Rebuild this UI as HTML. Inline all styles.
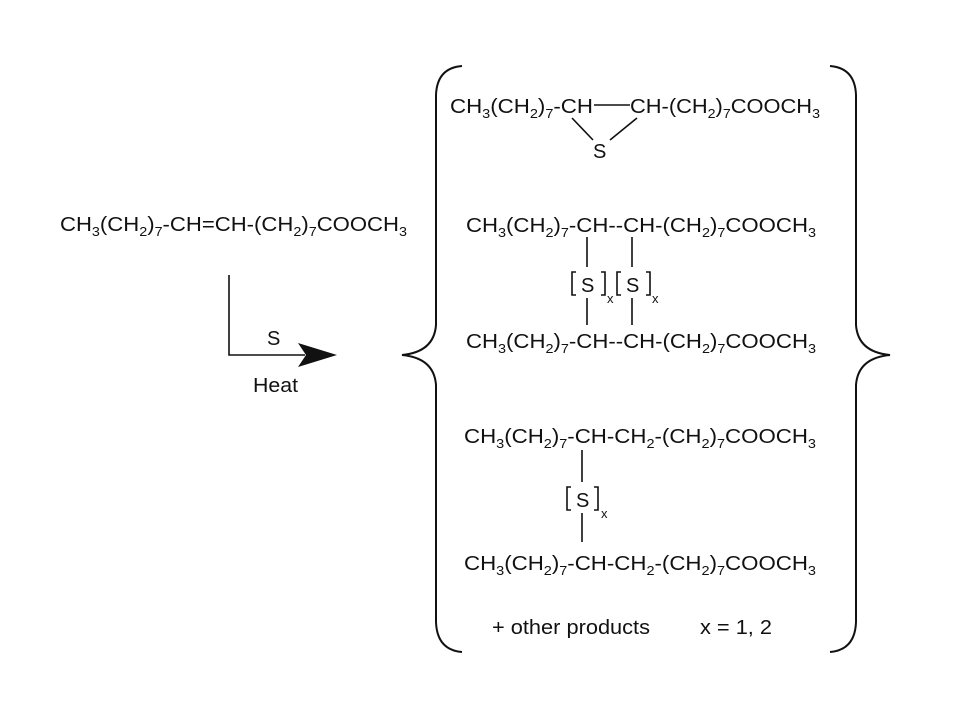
<!DOCTYPE html>
<html><head><meta charset="utf-8"><style>
html,body{margin:0;padding:0;background:#fff;}
svg{display:block;}
text{font-family:"Liberation Sans",sans-serif;font-size:20px;fill:#111;}
.sub{font-size:13px;}
</style></head><body>
<svg width="960" height="720" viewBox="0 0 960 720" xmlns="http://www.w3.org/2000/svg">
<g stroke="#111" fill="none" stroke-width="1.6">
<path d="M229 275 V355 H305"/>
<path d="M594 105 H630"/>
<path d="M572 118 L593 140"/>
<path d="M610 140 L637 118"/>
<path d="M587 237 V267 M632 237 V267 M587 298 V325 M632 298 V325"/>
<path d="M576 272 h-4 v23 h4 M601 272 h4 v23 h-4"/>
<path d="M621 272 h-4 v23 h4 M646 272 h4 v23 h-4"/>
<path d="M582 450 V482 M582 513 V542"/>
<path d="M571 487 h-4 v23 h4 M594 487 h4 v23 h-4"/>
<path stroke-width="2" d="M462 66 Q437 68 436 95 L436 325 Q434 352 402 355 Q434 358 436 385 L436 622 Q437 650 462 652"/>
<path stroke-width="2" d="M830 66 Q855 68 856 95 L856 325 Q858 352 890 355 Q858 358 856 385 L856 622 Q855 650 830 652"/>
</g>
<polygon points="298,343 337,355 298,367 306,355" fill="#111"/>

<text x="60" y="231" textLength="347" lengthAdjust="spacingAndGlyphs">CH<tspan class="sub" dy="5">3</tspan><tspan dy="-5">(CH</tspan><tspan class="sub" dy="5">2</tspan><tspan dy="-5">)</tspan><tspan class="sub" dy="5">7</tspan><tspan dy="-5">-CH=CH-(CH</tspan><tspan class="sub" dy="5">2</tspan><tspan dy="-5">)</tspan><tspan class="sub" dy="5">7</tspan><tspan dy="-5">COOCH</tspan><tspan class="sub" dy="5">3</tspan></text>
<text x="267" y="345">S</text>
<text x="253" y="392" textLength="45" lengthAdjust="spacingAndGlyphs">Heat</text>

<text x="450" y="113" textLength="143" lengthAdjust="spacingAndGlyphs">CH<tspan class="sub" dy="5">3</tspan><tspan dy="-5">(CH</tspan><tspan class="sub" dy="5">2</tspan><tspan dy="-5">)</tspan><tspan class="sub" dy="5">7</tspan><tspan dy="-5">-CH</tspan></text>
<text x="630" y="113" textLength="190" lengthAdjust="spacingAndGlyphs">CH-(CH<tspan class="sub" dy="5">2</tspan><tspan dy="-5">)</tspan><tspan class="sub" dy="5">7</tspan><tspan dy="-5">COOCH</tspan><tspan class="sub" dy="5">3</tspan></text>
<text x="593" y="158">S</text>

<text x="466" y="232" textLength="350" lengthAdjust="spacingAndGlyphs">CH<tspan class="sub" dy="5">3</tspan><tspan dy="-5">(CH</tspan><tspan class="sub" dy="5">2</tspan><tspan dy="-5">)</tspan><tspan class="sub" dy="5">7</tspan><tspan dy="-5">-CH--CH-(CH</tspan><tspan class="sub" dy="5">2</tspan><tspan dy="-5">)</tspan><tspan class="sub" dy="5">7</tspan><tspan dy="-5">COOCH</tspan><tspan class="sub" dy="5">3</tspan></text>
<text x="581" y="292">S</text><text class="sub" x="607" y="303">x</text>
<text x="626" y="292">S</text><text class="sub" x="652" y="303">x</text>
<text x="466" y="348" textLength="350" lengthAdjust="spacingAndGlyphs">CH<tspan class="sub" dy="5">3</tspan><tspan dy="-5">(CH</tspan><tspan class="sub" dy="5">2</tspan><tspan dy="-5">)</tspan><tspan class="sub" dy="5">7</tspan><tspan dy="-5">-CH--CH-(CH</tspan><tspan class="sub" dy="5">2</tspan><tspan dy="-5">)</tspan><tspan class="sub" dy="5">7</tspan><tspan dy="-5">COOCH</tspan><tspan class="sub" dy="5">3</tspan></text>

<text x="464" y="443" textLength="352" lengthAdjust="spacingAndGlyphs">CH<tspan class="sub" dy="5">3</tspan><tspan dy="-5">(CH</tspan><tspan class="sub" dy="5">2</tspan><tspan dy="-5">)</tspan><tspan class="sub" dy="5">7</tspan><tspan dy="-5">-CH-CH</tspan><tspan class="sub" dy="5">2</tspan><tspan dy="-5">-(CH</tspan><tspan class="sub" dy="5">2</tspan><tspan dy="-5">)</tspan><tspan class="sub" dy="5">7</tspan><tspan dy="-5">COOCH</tspan><tspan class="sub" dy="5">3</tspan></text>
<text x="576" y="507">S</text><text class="sub" x="601" y="518">x</text>
<text x="464" y="570" textLength="352" lengthAdjust="spacingAndGlyphs">CH<tspan class="sub" dy="5">3</tspan><tspan dy="-5">(CH</tspan><tspan class="sub" dy="5">2</tspan><tspan dy="-5">)</tspan><tspan class="sub" dy="5">7</tspan><tspan dy="-5">-CH-CH</tspan><tspan class="sub" dy="5">2</tspan><tspan dy="-5">-(CH</tspan><tspan class="sub" dy="5">2</tspan><tspan dy="-5">)</tspan><tspan class="sub" dy="5">7</tspan><tspan dy="-5">COOCH</tspan><tspan class="sub" dy="5">3</tspan></text>

<text x="492" y="634" textLength="158" lengthAdjust="spacingAndGlyphs">+ other products</text>
<text x="700" y="634" textLength="72" lengthAdjust="spacingAndGlyphs">x = 1, 2</text>
</svg>
</body></html>
